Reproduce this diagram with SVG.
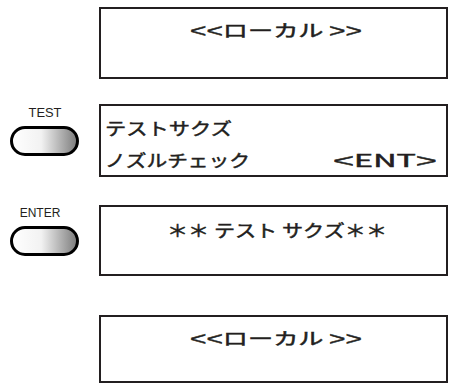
<svg xmlns="http://www.w3.org/2000/svg" width="450" height="384" viewBox="0 0 450 384">
<style>
.box{fill:#fff;stroke:#231f20;stroke-width:2}
.btn{fill:url(#g);stroke:#000;stroke-width:3}
.lcd{font-family:"Noto Sans CJK JP","Noto Sans",sans-serif;font-size:17px;fill:#231f20;stroke:#231f20;stroke-width:0.45}
.lt{font-family:"Liberation Sans",Arial,sans-serif;font-size:19px}
.lbl{font-family:"Liberation Sans",Arial,sans-serif;font-size:12px;fill:#231f20;text-anchor:middle}
</style>
<defs>
<linearGradient id="g" x1="0" y1="0" x2="1" y2="0">
<stop offset="0" stop-color="#fff"/>
<stop offset="0.45" stop-color="#f2f2f2"/>
<stop offset="1" stop-color="#7a7a7a"/>
</linearGradient>
</defs>
<g id="screen1">
<rect class="box" x="100" y="8" width="347" height="70"/>
<text class="lcd" x="190" y="37" textLength="172" lengthAdjust="spacingAndGlyphs"><tspan class="lt">&lt;&lt;</tspan>ローカル <tspan class="lt">&gt;&gt;</tspan></text>
</g>
<g id="test-key">
<text class="lbl" x="45" y="117" textLength="33" lengthAdjust="spacingAndGlyphs">TEST</text>
<rect class="btn" x="11.5" y="127.5" width="66" height="27" rx="13.5"/>
</g>
<g id="screen2">
<rect class="box" x="100" y="105" width="347" height="71"/>
<text class="lcd" x="105" y="135" textLength="127" lengthAdjust="spacingAndGlyphs">テストサクズ</text>
<text class="lcd" x="105" y="167" textLength="145" lengthAdjust="spacingAndGlyphs">ノズルチェック</text>
<text class="lcd" x="333" y="167" textLength="104" lengthAdjust="spacingAndGlyphs"><tspan class="lt">&lt;</tspan>ENT<tspan class="lt">&gt;</tspan></text>
</g>
<g id="enter-key">
<text class="lbl" x="40" y="217">ENTER</text>
<rect class="btn" x="11.5" y="227.5" width="66" height="27" rx="13.5"/>
</g>
<g id="screen3">
<rect class="box" x="100" y="206" width="347" height="69"/>
<text class="lcd" x="167" y="237" textLength="220" lengthAdjust="spacingAndGlyphs">＊＊ テスト サクズ＊＊</text>
</g>
<g id="screen4">
<rect class="box" x="100" y="316" width="347" height="66"/>
<text class="lcd" x="190" y="345" textLength="172" lengthAdjust="spacingAndGlyphs"><tspan class="lt">&lt;&lt;</tspan>ローカル <tspan class="lt">&gt;&gt;</tspan></text>
</g>
</svg>
